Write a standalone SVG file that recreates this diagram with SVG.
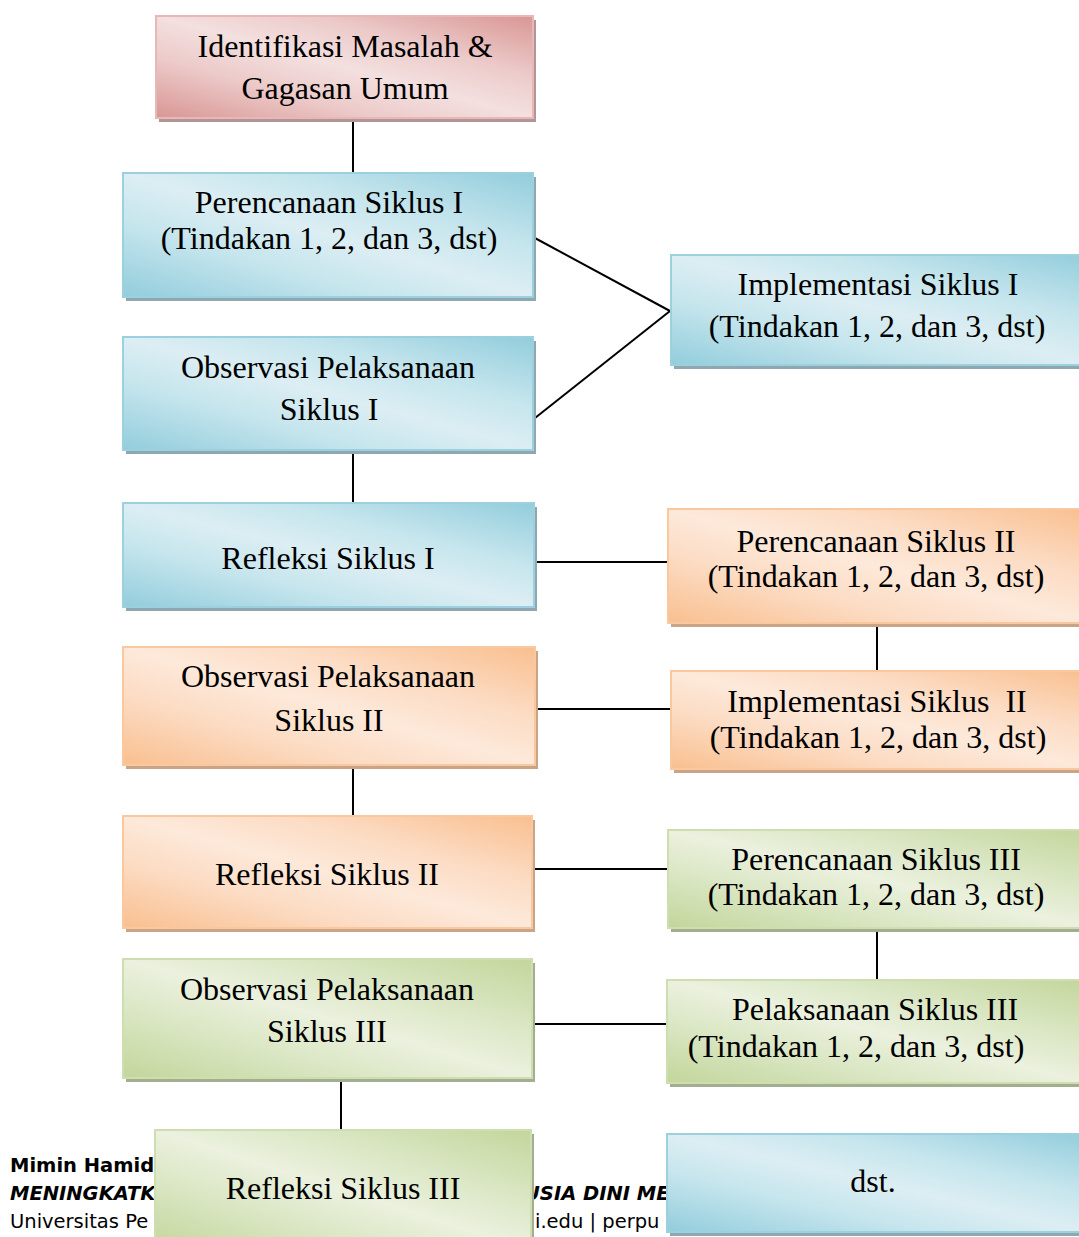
<svg xmlns="http://www.w3.org/2000/svg" width="1079" height="1237" viewBox="0 0 1079 1237">
<defs>
<linearGradient id="gRed" x1="0" y1="1" x2="1" y2="0">
<stop offset="0" stop-color="#d99694"/><stop offset="0.3" stop-color="#eccbca"/><stop offset="0.5" stop-color="#f3e0df"/><stop offset="0.7" stop-color="#eccbca"/><stop offset="1" stop-color="#d99694"/>
</linearGradient>
<linearGradient id="gBlue" x1="0" y1="1" x2="1" y2="0">
<stop offset="0" stop-color="#92cddc"/><stop offset="0.3" stop-color="#c5e5ed"/><stop offset="0.5" stop-color="#dceef3"/><stop offset="0.7" stop-color="#c5e5ed"/><stop offset="1" stop-color="#92cddc"/>
</linearGradient>
<linearGradient id="gOrange" x1="0" y1="1" x2="1" y2="0">
<stop offset="0" stop-color="#f9bf8f"/><stop offset="0.3" stop-color="#fcdcc4"/><stop offset="0.5" stop-color="#fde9da"/><stop offset="0.7" stop-color="#fcdcc4"/><stop offset="1" stop-color="#f9bf8f"/>
</linearGradient>
<linearGradient id="gGreen" x1="0" y1="1" x2="1" y2="0">
<stop offset="0" stop-color="#c3d69b"/><stop offset="0.3" stop-color="#dbe7c5"/><stop offset="0.5" stop-color="#ebf1de"/><stop offset="0.7" stop-color="#dbe7c5"/><stop offset="1" stop-color="#c3d69b"/>
</linearGradient>
</defs>
<style>
.t{font-family:"Liberation Serif","Times New Roman",serif;font-size:32px;fill:#000;text-anchor:middle}
.f{font-family:"DejaVu Sans",sans-serif;font-size:19.5px;fill:#000}
.fb{font-weight:bold;font-style:italic}
.b{font-weight:bold}
.conn line{stroke:#000;stroke-width:2}
.red .box{fill:url(#gRed);stroke:#e6b8b7;stroke-width:2}
.red .sh{fill:#b39595}
.blue .box{fill:url(#gBlue);stroke:#9dd0de;stroke-width:2}
.blue .sh{fill:#8ea8b1}
.orange .box{fill:url(#gOrange);stroke:#f9c89f;stroke-width:2}
.orange .sh{fill:#c9a487}
.green .box{fill:url(#gGreen);stroke:#cfdeb0;stroke-width:2}
.green .sh{fill:#a3ad90}
</style>
<rect width="1079" height="1237" fill="#fff"/>
<g id="footer">
<text class="f b" x="10" y="1172">Mimin Hamid</text>
<text class="f fb" x="10" y="1200">MENINGKATK</text>
<text class="f fb" x="524" y="1200">USIA DINI MEL</text>
<text class="f" x="10" y="1228">Universitas Pe</text>
<text class="f" x="535" y="1228">i.edu | perpu</text>
</g>
<g class="conn" id="connectors">
<line x1="353" y1="118" x2="353" y2="173"/>
<line x1="533" y1="237" x2="670" y2="311"/>
<line x1="535" y1="418" x2="670" y2="311"/>
<line x1="353" y1="450" x2="353" y2="503"/>
<line x1="535" y1="562" x2="668" y2="562"/>
<line x1="877" y1="623" x2="877" y2="671"/>
<line x1="535" y1="709" x2="671" y2="709"/>
<line x1="353" y1="765" x2="353" y2="816"/>
<line x1="532" y1="869" x2="668" y2="869"/>
<line x1="877" y1="928" x2="877" y2="980"/>
<line x1="532" y1="1024" x2="667" y2="1024"/>
<line x1="341" y1="1078" x2="341" y2="1130"/>
</g>
<g id="n1" class="red">
<rect class="sh" x="159" y="20" width="377" height="102"/>
<rect class="box" x="156" y="16" width="377" height="102"/>
<text class="t" x="345" y="57">Identifikasi Masalah &amp;</text>
<text class="t" x="345" y="99">Gagasan Umum</text>
</g>
<g id="n2" class="blue">
<rect class="sh" x="126" y="177" width="410" height="124"/>
<rect class="box" x="123" y="173" width="410" height="124"/>
<text class="t" x="329" y="213">Perencanaan Siklus I</text>
<text class="t" x="329" y="249">(Tindakan 1, 2, dan 3, dst)</text>
</g>
<g id="n3" class="blue">
<rect class="sh" x="126" y="341" width="410" height="113"/>
<rect class="box" x="123" y="337" width="410" height="113"/>
<text class="t" x="328" y="378">Observasi Pelaksanaan</text>
<text class="t" x="329" y="420">Siklus I</text>
</g>
<g id="n4" class="blue">
<rect class="sh" x="674" y="259" width="420" height="110"/>
<rect class="box" x="671" y="255" width="420" height="110"/>
<text class="t" x="878" y="295">Implementasi Siklus I</text>
<text class="t" x="877" y="337">(Tindakan 1, 2, dan 3, dst)</text>
</g>
<g id="n5" class="blue">
<rect class="sh" x="126" y="507" width="411" height="104"/>
<rect class="box" x="123" y="503" width="411" height="104"/>
<text class="t" x="328" y="569">Refleksi Siklus I</text>
</g>
<g id="n6" class="orange">
<rect class="sh" x="671" y="513" width="420" height="114"/>
<rect class="box" x="668" y="509" width="420" height="114"/>
<text class="t" x="876" y="552">Perencanaan Siklus II</text>
<text class="t" x="876" y="587">(Tindakan 1, 2, dan 3, dst)</text>
</g>
<g id="n7" class="orange">
<rect class="sh" x="126" y="651" width="412" height="118"/>
<rect class="box" x="123" y="647" width="412" height="118"/>
<text class="t" x="328" y="687">Observasi Pelaksanaan</text>
<text class="t" x="329" y="731">Siklus II</text>
</g>
<g id="n8" class="orange">
<rect class="sh" x="674" y="675" width="420" height="98"/>
<rect class="box" x="671" y="671" width="420" height="98"/>
<text class="t" x="877" y="712" xml:space="preserve">Implementasi Siklus  II</text>
<text class="t" x="878" y="748">(Tindakan 1, 2, dan 3, dst)</text>
</g>
<g id="n9" class="orange">
<rect class="sh" x="126" y="820" width="409" height="112"/>
<rect class="box" x="123" y="816" width="409" height="112"/>
<text class="t" x="327" y="885">Refleksi Siklus II</text>
</g>
<g id="n10" class="green">
<rect class="sh" x="671" y="834" width="420" height="98"/>
<rect class="box" x="668" y="830" width="420" height="98"/>
<text class="t" x="876" y="870">Perencanaan Siklus III</text>
<text class="t" x="876" y="905">(Tindakan 1, 2, dan 3, dst)</text>
</g>
<g id="n11" class="green">
<rect class="sh" x="126" y="963" width="409" height="119"/>
<rect class="box" x="123" y="959" width="409" height="119"/>
<text class="t" x="327" y="1000">Observasi Pelaksanaan</text>
<text class="t" x="327" y="1042">Siklus III</text>
</g>
<g id="n12" class="green">
<rect class="sh" x="670" y="984" width="420" height="103"/>
<rect class="box" x="667" y="980" width="420" height="103"/>
<text class="t" x="875" y="1020">Pelaksanaan Siklus III</text>
<text class="t" x="856" y="1057">(Tindakan 1, 2, dan 3, dst)</text>
</g>
<g id="n13" class="green">
<rect class="sh" x="158" y="1134" width="376" height="120"/>
<rect class="box" x="155" y="1130" width="376" height="120"/>
<text class="t" x="343" y="1199">Refleksi Siklus III</text>
</g>
<g id="n14" class="blue">
<rect class="sh" x="670" y="1138" width="420" height="98"/>
<rect class="box" x="667" y="1134" width="420" height="98"/>
<text class="t" x="873" y="1192">dst.</text>
</g>
</svg>
